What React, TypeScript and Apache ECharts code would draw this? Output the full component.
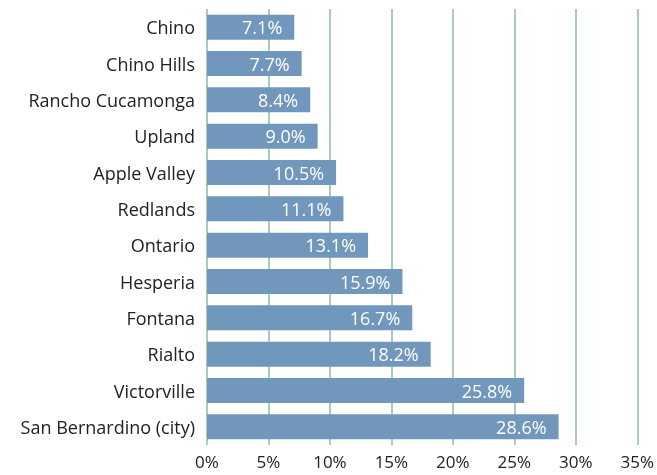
import React, { useEffect, useRef } from "react";
import * as echarts from "echarts";

const cities = [
  "Chino",
  "Chino Hills",
  "Rancho Cucamonga",
  "Upland",
  "Apple Valley",
  "Redlands",
  "Ontario",
  "Hesperia",
  "Fontana",
  "Rialto",
  "Victorville",
  "San Bernardino (city)",
];
const rates = [7.1, 7.7, 8.4, 9.0, 10.5, 11.1, 13.1, 15.9, 16.7, 18.2, 25.8, 28.6];

export default function App() {
  const ref = useRef<HTMLDivElement>(null);
  useEffect(() => {
    if (!ref.current) return;
    const chart = echarts.init(ref.current, null, { renderer: "svg" });
    chart.setOption({
      animation: false,
      grid: { left: 207, right: 19, top: 9, bottom: 30, containLabel: false },
      xAxis: {
        type: "value",
        min: 0,
        max: 35,
        interval: 5,
        axisLabel: {
          formatter: "{value}%",
          fontFamily: "Open Sans",
          fontSize: 17,
          color: "#222",
          margin: 8,
        },
        axisLine: { show: false },
        axisTick: { show: false },
        splitLine: { show: true, lineStyle: { color: "#8dbba3", width: 1.5 } },
      },
      yAxis: {
        type: "category",
        data: cities,
        inverse: true,
        axisLabel: {
          fontFamily: "Open Sans",
          fontSize: 18,
          color: "#222",
          margin: 12,
        },
        axisLine: { show: false },
        axisTick: { show: false },
      },
      series: [
        {
          type: "bar",
          data: rates,
          barWidth: 25,
          itemStyle: { color: "#7197bc" },
          label: {
            show: true,
            position: "insideRight",
            distance: 12,
            formatter: (p: any) => p.value.toFixed(1) + "%",
            color: "#fff",
            fontFamily: "Open Sans",
            fontSize: 18,
          },
        },
      ],
    });
    return () => chart.dispose();
  }, []);
  return (
    <div
      ref={ref}
      style={{ position: "fixed", left: 0, top: 0, width: 657, height: 475 }}
    />
  );
}
